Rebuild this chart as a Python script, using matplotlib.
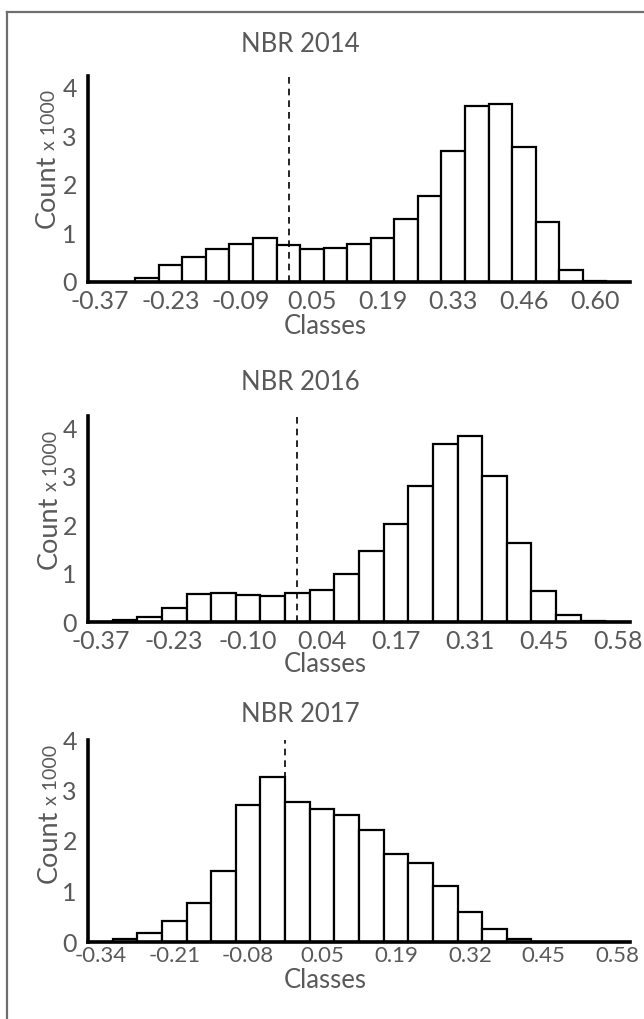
import numpy as np
import matplotlib.pyplot as plt
from matplotlib.lines import Line2D

plt.rcParams['font.family'] = ['Lato', 'DejaVu Sans']

# histogram counts (x 1000) per class bin
titles = ['NBR 2014', 'NBR 2016', 'NBR 2017']
counts_2014 = [0, 0, 0.08, 0.35, 0.52, 0.67, 0.79, 0.90, 0.77, 0.68, 0.69, 0.79,
               0.91, 1.30, 1.76, 2.70, 3.63, 3.66, 2.78, 1.24, 0.24, 0.03, 0]
counts_2016 = [0, 0.04, 0.10, 0.28, 0.58, 0.60, 0.55, 0.54, 0.60, 0.66, 0.99, 1.46,
               2.03, 2.80, 3.67, 3.83, 3.02, 1.64, 0.63, 0.14, 0.02, 0]
counts_2017 = [0, 0.05, 0.17, 0.42, 0.78, 1.40, 2.72, 3.26, 2.77, 2.63, 2.51, 2.22,
               1.75, 1.56, 1.11, 0.60, 0.26, 0.05, 0, 0, 0, 0]
labels_2014 = ['-0.37', '-0.23', '-0.09', '0.05', '0.19', '0.33', '0.46', '0.60']
labels_2016 = ['-0.37', '-0.23', '-0.10', '0.04', '0.17', '0.31', '0.45', '0.58']
labels_2017 = ['-0.34', '-0.21', '-0.08', '0.05', '0.19', '0.32', '0.45', '0.58']
# where NBR = 0 falls on the class axis (in bins)
zero_pos = [8.52, 8.47, 8.0]

all_counts = [counts_2014, counts_2016, counts_2017]
all_labels = [labels_2014, labels_2016, labels_2017]

W, H = 644, 1019
fig = plt.figure(figsize=(W / 100, H / 100), dpi=100)
grey = '#595959'

def fx(px):
    return px / W

def fy(py):
    return 1 - py / H

# layout per panel (pixels from top-left)
panels = [
    dict(zero=282, top=76, ymax=4.24, title=45, tfs=18, pad=6, cls=327, lx=55, count=228),
    dict(zero=622, top=416, ymax=4.25, title=382, tfs=18, pad=6, cls=665, lx=57, count=569),
    dict(zero=942, top=740, ymax=4.0, title=715, tfs=16, pad=3, cls=980, lx=57, count=883),
]

fig.canvas.draw()
renderer = fig.canvas.get_renderer()

for i, p in enumerate(panels):
    counts = all_counts[i]
    n = len(counts)
    ax = fig.add_axes([fx(88), fy(p['zero']), fx(630) - fx(88), (p['zero'] - p['top']) / H])
    ax.bar(np.arange(n) + 0.5, counts, width=1.0, facecolor='white',
           edgecolor='black', linewidth=1.6, zorder=2)
    ax.axvline(zero_pos[i], color='black', linestyle=(0, (4, 3)), linewidth=1.2, zorder=3)
    ax.set_xlim(0, n)
    ax.set_ylim(0, p['ymax'])
    ax.set_xticks(np.arange(0, n, 3) + 0.5)
    ax.set_xticklabels(all_labels[i], fontsize=p['tfs'], color=grey)
    ax.set_yticks([0, 1, 2, 3, 4])
    ax.set_yticklabels(['0', '1', '2', '3', '4'], fontsize=18, color=grey)
    ax.tick_params(axis='x', length=0, pad=p['pad'])
    ax.tick_params(axis='y', length=0, pad=8)
    for s in ['top', 'right']:
        ax.spines[s].set_visible(False)
    for s in ['left', 'bottom']:
        ax.spines[s].set_linewidth(2.6)
        ax.spines[s].set_zorder(4)
    ax.patch.set_alpha(0)

    fig.text(fx(300), fy(p['title']), titles[i], ha='center', va='center',
             fontsize=18.5, color=grey)
    fig.text(fx(325), fy(p['cls']), 'Classes', ha='center', va='center',
             fontsize=18.5, color=grey)
    t = fig.text(fx(p['lx']), fy(p['count']), 'Count', rotation=90, rotation_mode='anchor',
                 ha='left', va='baseline', fontsize=19.5, color=grey)
    bb = t.get_window_extent(renderer)
    # small "x 1000" continues above "Count"
    fig.text(fx(p['lx']), (bb.y1 + 5) / H, 'x 1000', rotation=90, rotation_mode='anchor',
             ha='left', va='baseline', fontsize=14, color=grey)

# frame lines on the left and top of the figure
fig.add_artist(Line2D([fx(7), fx(7)], [fy(12), 0], color='#6e6e6e', linewidth=1.6))
fig.add_artist(Line2D([fx(7), 1], [fy(12), fy(12)], color='#6e6e6e', linewidth=1.6))

fig.savefig('out.png', dpi=100)
